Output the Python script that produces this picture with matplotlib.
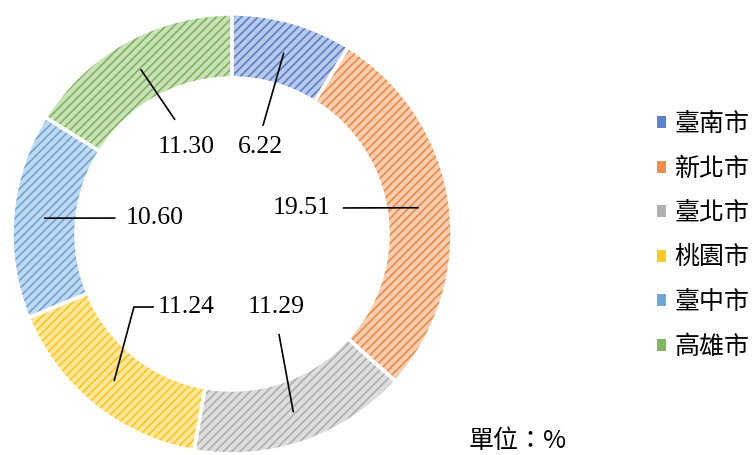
import numpy as np
import matplotlib.pyplot as plt
from matplotlib.patches import Patch
from matplotlib.colors import to_rgb

# 各縣市占比 (單位：%)
cities = ['臺南市', '新北市', '臺北市', '桃園市', '臺中市', '高雄市']
shares = [6.22, 19.51, 11.29, 11.24, 10.60, 11.30]
colors = ['#4472C4', '#ED7D31', '#A5A5A5', '#FFC000', '#5B9BD5', '#70AD47']

plt.rcParams['hatch.linewidth'] = 1.2
plt.rcParams['font.family'] = ['Liberation Serif', 'Noto Sans CJK TC']

W, H = 755, 455
fig = plt.figure(figsize=(W / 100, H / 100), dpi=100)
ax = fig.add_axes([0, 0, 1, 1])

# work in pixel units, y measured from the top of the picture
cx, cy = 232, H - 234
R, ring = 220, 64


def tint(c, f):
    r, g, b = to_rgb(c)
    return (r + (1 - r) * f, g + (1 - g) * f, b + (1 - b) * f)


wedges, _ = ax.pie(shares, colors=[tint(c, 0.62) for c in colors],
                   startangle=90, counterclock=False, radius=R, center=(cx, cy),
                   wedgeprops=dict(width=ring, linewidth=0))
for w, c in zip(wedges, colors):
    w.set_edgecolor(tint(c, 0.1))
    w.set_hatch('////')

# white gaps between segments
ax.pie(shares, colors=['none'] * len(shares), startangle=90, counterclock=False,
       radius=R, center=(cx, cy),
       wedgeprops=dict(width=ring, edgecolor='white', linewidth=2.5, fill=False))

ax.set_xlim(0, W)
ax.set_ylim(0, H)
ax.set_aspect('auto')
ax.axis('off')

# data labels with leader lines
total = sum(shares)
before = np.cumsum([0] + shares[:-1])
text_pos = [(260, 147), (302, 208), (276, 307), (186, 307), (155, 218), (186, 147)]
rel = [(0.5, 1), (1, 0.5), (0.5, 0), (0, 0.5), (0, 0.5), (0.5, 1)]
gaps = [6, 7, 10, 1, 6, 12]
conn = ['arc3', 'arc3', 'arc3', 'angle,angleA=0,angleB=75,rad=0', 'arc3', 'arc3']
r_mid = R - ring / 2
for i, v in enumerate(shares):
    ang = np.deg2rad(90 - (before[i] + v / 2) / total * 360)
    anchor = (cx + r_mid * np.cos(ang), cy + r_mid * np.sin(ang))
    tx, ty = text_pos[i]
    ax.annotate(f'{v:.2f}', xy=anchor, xytext=(tx, H - ty), fontsize=18.5,
                ha='center', va='center',
                arrowprops=dict(arrowstyle='-', color='black', lw=1.2,
                                relpos=rel[i], shrinkA=gaps[i], shrinkB=0,
                                connectionstyle=conn[i]))

handles = [Patch(facecolor=tint(c, 0.12), edgecolor='none') for c in colors]
ax.legend(handles, cities, loc='center left', bbox_to_anchor=(657 / W, 1 - 235.5 / H),
          frameon=False, prop={'family': 'Noto Sans CJK TC', 'size': 18},
          handlelength=0.35, handleheight=0.35, handletextpad=0.35,
          labelspacing=0.74, borderpad=0, borderaxespad=0)

ax.text(518, H - 441, '單位：%', fontsize=18, ha='center', va='center',
        family=['Noto Sans CJK TC', 'Liberation Serif'])

fig.savefig('out.png', dpi=100)
